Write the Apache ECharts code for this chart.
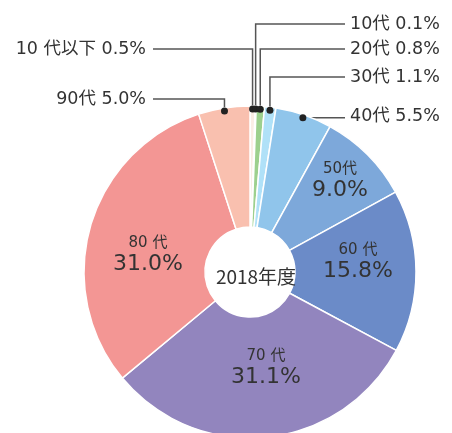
<!DOCTYPE html>
<html>
<head>
<meta charset="utf-8">
<script src="https://cdn.jsdelivr.net/npm/echarts@6/dist/echarts.min.js"></script>
<style>
  html, body { margin: 0; padding: 0; background: #fff; }
  #chart { width: 452px; height: 433px; }
</style>
</head>
<body>
<div id="chart"></div>
<script>
"use strict";

const categories = ["10代以下", "10代", "20代", "30代", "40代", "50代", "60代", "70代", "80代", "90代"];
const labelNames = ["10 代以下", "10代", "20代", "30代", "40代", "50代", "60 代", "70 代", "80 代", "90代"];
const shares     = [0.5, 0.1, 0.8, 1.1, 5.5, 9.0, 15.8, 31.1, 31.0, 5.0];
const colors     = ["#fbeee6", "#f3f7e4", "#9dd08e", "#b0e1f8", "#90c5eb", "#7da8da", "#6b8bc8", "#9285be", "#f39694", "#f9c0af"];
const centerText = "2018年度";

const FONT = "'DejaVu Sans', 'Noto Sans CJK JP', sans-serif";
const CX = 250, CY = 272, R0 = 45, R1 = 166, DOT_R = 163;

// 外側ラベルのレイアウト（折れ線の曲がり位置とラベル位置）
const outerLayout = {
  0: { side: "left",  y: 49 },
  1: { side: "right", y: 24 },
  2: { side: "right", y: 49 },
  3: { side: "right", y: 77 },
  4: { side: "right", y: 116 },
  9: { side: "left",  y: 99 }
};
// 内側ラベルの位置
const innerLayout = {
  5: [340, 181],
  6: [358, 262],
  7: [266, 368],
  8: [148, 255]
};

const total = shares.reduce((a, b) => a + b, 0);

// 各スライス中央の外周点
function anchorPoint(i) {
  const before = shares.slice(0, i).reduce((a, b) => a + b, 0);
  const mid = (before + shares[i] / 2) / total * Math.PI * 2;
  return [CX + DOT_R * Math.sin(mid), CY - DOT_R * Math.cos(mid)];
}

const chart = echarts.init(document.getElementById("chart"));

const data = categories.map((name, i) => {
  const outer = outerLayout[i] !== undefined;
  return {
    name,
    value: shares[i],
    itemStyle: { color: colors[i] },
    label: outer
      ? { position: "outside", formatter: labelNames[i] + " " + shares[i].toFixed(1) + "%", fontSize: 17.5, color: "#333" }
      : { position: "inside", formatter: "{n|" + labelNames[i] + "}\n{v|" + shares[i].toFixed(1) + "%}" },
    labelLine: { show: outer, lineStyle: { color: "#555", width: 1.5 } }
  };
});

const dots = Object.keys(outerLayout).map(k => {
  const p = anchorPoint(+k);
  return { type: "circle", shape: { cx: p[0], cy: p[1], r: 3.5 }, style: { fill: "#222" }, z: 100 };
});

chart.setOption({
  backgroundColor: "#fff",
  animation: false,
  title: {
    text: centerText,
    left: CX + 1, top: CY,
    textAlign: "center", textVerticalAlign: "middle",
    textStyle: { fontSize: 19, fontWeight: "normal", color: "#333", fontFamily: "'Noto Sans CJK JP', sans-serif" }
  },
  graphic: dots,
  series: [{
    type: "pie",
    center: [CX, CY],
    radius: [R0, R1],
    startAngle: 90,
    clockwise: true,
    avoidLabelOverlap: false,
    itemStyle: { borderColor: "#fff", borderWidth: 1.5 },
    label: {
      fontFamily: FONT,
      color: "#333",
      rich: {
        n: { fontSize: 15, color: "#333", lineHeight: 19, fontFamily: FONT },
        v: { fontSize: 22, color: "#333", lineHeight: 24, fontFamily: FONT }
      }
    },
    labelLayout: params => {
      const i = params.dataIndex;
      const o = outerLayout[i];
      if (o) {
        const p = anchorPoint(i);
        const endX = o.side === "right" ? 345 : 153;
        const pts = Math.abs(p[1] - o.y) < 2
          ? [[p[0], p[1]], [p[0], p[1]], [endX, p[1]]]
          : [[p[0], p[1]], [p[0], o.y], [endX, o.y]];
        return {
          x: o.side === "right" ? 350 : 146,
          y: o.y,
          align: o.side === "right" ? "left" : "right",
          verticalAlign: "middle",
          labelLinePoints: pts
        };
      }
      const q = innerLayout[i];
      return { x: q[0], y: q[1], align: "center", verticalAlign: "middle" };
    },
    data
  }]
});
</script>
</body>
</html>
